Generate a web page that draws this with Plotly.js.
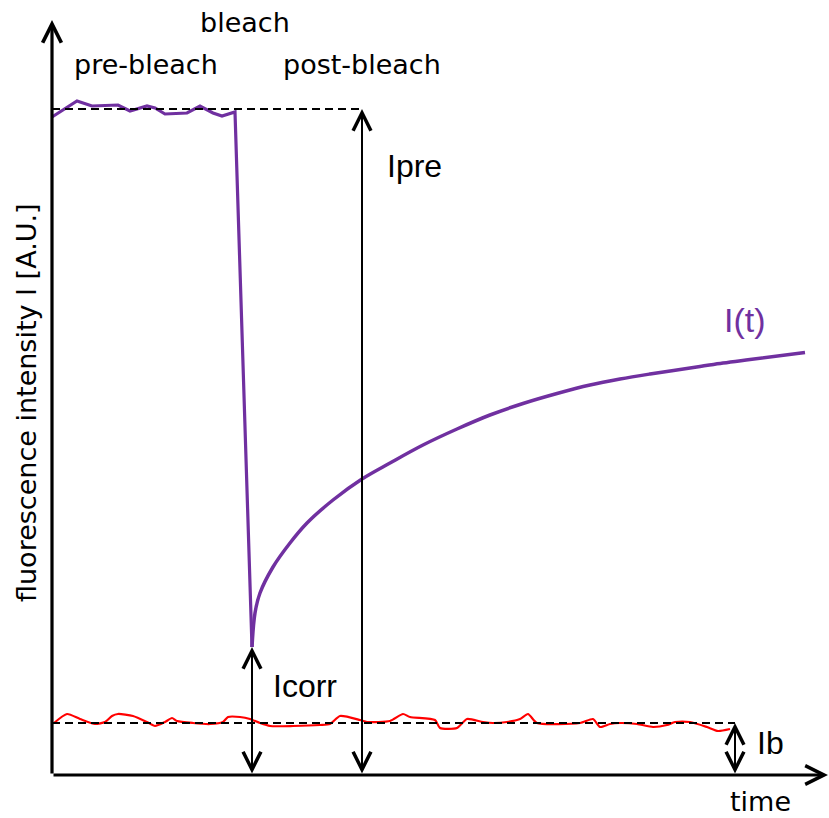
<!DOCTYPE html>
<html>
<head>
<meta charset="utf-8">
<script src="https://cdn.plot.ly/plotly-3.0.1.min.js"></script>
<style>html,body{margin:0;padding:0;background:#fff;}#chart{width:829px;height:818px;}</style>
</head>
<body>
<div id="chart"></div>
<script>
// ---- Data (arbitrary units: time, fluorescence intensity) ----
var preTime = [0, 25, 40, 58, 66, 78, 95, 103, 113, 135, 148, 161, 170, 183];
var preIntensity = [658, 674, 669, 670, 670, 664, 669, 667, 661, 662, 669, 662, 659, 663];

var postTime = [200, 203, 208, 221, 238, 255, 281, 310, 338, 371, 405, 438, 471, 505, 538, 568, 598, 648, 671, 698, 753];
var postIntensity = [128, 162, 182, 208, 232, 252, 275, 296, 312, 330, 346, 360, 371.5, 381.5, 390, 396, 401, 408.5, 412, 415.5, 422.5];

var bgTime = [2, 15, 28, 43, 53, 60, 66, 81, 95, 103, 113, 120, 125, 141, 158, 171, 176, 188, 198, 208, 218, 241, 268, 278, 288, 308, 315, 338, 351, 358, 383, 388, 405, 415, 431, 441, 455, 468, 476, 485, 528, 541, 548, 558, 568, 585, 601, 615, 623, 638, 655, 666, 678];
var bgIntensity = [52, 61, 56, 51, 53, 59, 61, 59, 53, 49, 53, 57, 54, 52, 51, 53, 58, 58, 56, 52, 49, 49, 50, 51, 59, 55, 53, 54, 61, 58, 55, 47, 47, 56, 53, 52, 53, 56, 61, 52, 52, 56, 48, 51, 52, 51, 48, 50, 53, 53, 48, 44, 46];

var preLevel = 666;      // I_pre
var bgLevel = 52;        // I_b
var minLevel = 128;      // intensity right after bleach
var bleachTime = 200;    // time of minimum
var preMarkerTime = 310; // where I_pre arrow is drawn
var bgMarkerTime = 683;  // where I_b arrow is drawn
var timeMax = 776;
var intensityMax = 755;

var labels = {
  bleach: 'bleach', pre: 'pre-bleach', post: 'post-bleach',
  ipre: 'Ipre', icorr: 'Icorr', ib: 'Ib', it: 'I(t)',
  xTitle: 'time', yTitle: 'fluorescence intensity I [A.U.]'
};

// ---- Build traces ----
var purple = '#7030a0';
var traces = [
  {x: bgTime, y: bgIntensity, mode: 'lines', line: {color: '#ff0000', width: 2.2, shape: 'spline', smoothing: 0.6}, hoverinfo: 'skip'},
  // pre-bleach plateau and the bleach drop (straight segments)
  {x: preTime.concat([postTime[0]]), y: preIntensity.concat([postIntensity[0]]), mode: 'lines',
   line: {color: purple, width: 3.2, shape: 'linear'}, hoverinfo: 'skip'},
  // recovery I(t)
  {x: postTime, y: postIntensity, mode: 'lines', line: {color: purple, width: 3.5, shape: 'spline', smoothing: 1}, hoverinfo: 'skip'}
];

var txtFont = {family: 'DejaVu Sans', size: 27, color: '#000'};
var iFont = {family: 'Liberation Sans', size: 32, color: '#000'};

function arrow(x0, y0, x1, y1, w, size, both) {
  var a = {x: x1, y: y1, ax: x0, ay: y0, xref: 'x', yref: 'y', axref: 'x', ayref: 'y',
    text: '', showarrow: true, arrowhead: 5, arrowsize: size, arrowwidth: w, arrowcolor: '#000'};
  if (both) { a.arrowside = 'end+start'; a.startarrowhead = 5; a.startarrowsize = size; }
  return a;
}
function label(t, x, y, font, xanchor, extra) {
  var a = {x: x, y: y, xref: 'x', yref: 'y', text: t, showarrow: false, font: font,
    xanchor: xanchor || 'center', yanchor: 'middle'};
  if (extra) for (var k in extra) a[k] = extra[k];
  return a;
}

var annotations = [
  arrow(0, 0, 0, intensityMax, 3.2, 1.15, false),
  arrow(0, 0, timeMax, 0, 3.2, 1.15, false),
  arrow(preMarkerTime, 0, preMarkerTime, preLevel, 2, 1.75, true),
  arrow(bleachTime, 0, bleachTime, minLevel, 2, 1.75, true),
  arrow(bgMarkerTime, 0, bgMarkerTime, bgLevel, 2, 1.75, true),
  label(labels.bleach, 193, 753, txtFont),
  label(labels.pre, 94, 711, txtFont),
  label(labels.post, 310, 711, txtFont),
  label(labels.ipre, 333, 609, iFont, 'left'),
  label(labels.icorr, 219, 89, iFont, 'left'),
  label(labels.ib, 703, 32, iFont, 'left'),
  label(labels.it, 693, 455, {family: 'Liberation Sans', size: 34, color: purple}),
  label(labels.xTitle, 708, -26, txtFont),
  label(labels.yTitle, -26, 372, txtFont, 'center', {textangle: -90})
];

var shapes = [
  {type: 'line', xref: 'x', yref: 'y', x0: 0, x1: preMarkerTime, y0: preLevel, y1: preLevel,
   line: {color: '#000', width: 2, dash: '8px,5px'}},
  {type: 'line', xref: 'x', yref: 'y', x0: 0, x1: bgMarkerTime, y0: bgLevel, y1: bgLevel,
   line: {color: '#000', width: 2, dash: '8px,5px'}}
];

var layout = {
  width: 829, height: 818, autosize: false,
  margin: {l: 0, r: 0, t: 0, b: 0, pad: 0},
  paper_bgcolor: '#fff', plot_bgcolor: '#fff',
  showlegend: false,
  xaxis: {range: [-52, 777], visible: false, fixedrange: true},
  yaxis: {range: [-43, 775], visible: false, fixedrange: true},
  annotations: annotations,
  shapes: shapes
};

Plotly.newPlot('chart', traces, layout, {displayModeBar: false, staticPlot: true});
</script>
</body>
</html>
